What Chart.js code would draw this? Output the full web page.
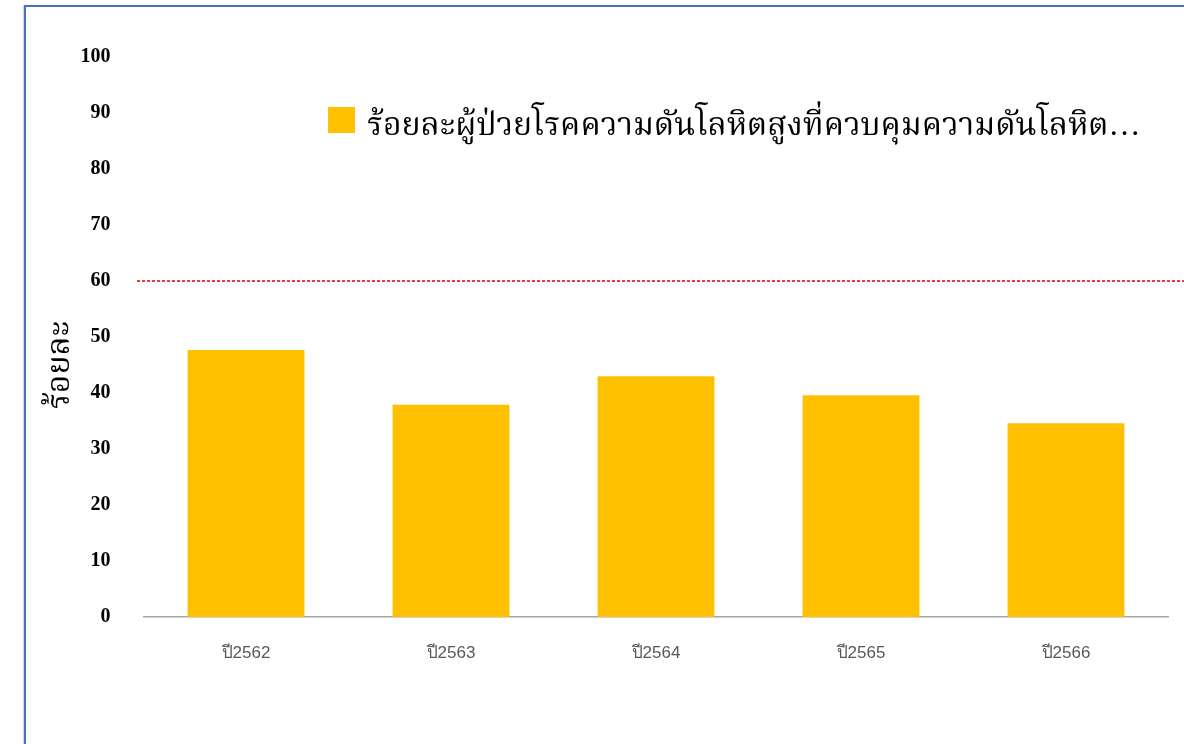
<!DOCTYPE html>
<html lang="th">
<head>
<meta charset="utf-8">
<title>ร้อยละผู้ป่วยโรคความดันโลหิตสูงที่ควบคุมความดันโลหิตได้ดี</title>
<script src="https://cdn.jsdelivr.net/npm/chart.js@4"></script>
<style>
    html, body {
        margin: 0;
        padding: 0;
        background: #ffffff;
        overflow: hidden;
    }

    #grafica {
        position: absolute;
        left: 0;
        top: 0;
    }

    .marco {
        position: absolute;
        left: 24px;
        top: 5px;
        width: 1300px;
        height: 900px;
        border-left: 2px solid #4472c4;
        border-top: 2px solid #4472c4;
        box-shadow: -1px 0 1px rgba(0, 0, 0, 0.15);
        pointer-events: none;
    }
</style>
</head>
<body>
<canvas id="grafica" width="1184" height="744"></canvas>
<div class="marco"></div>

<script>
const years = ["ปี2562", "ปี2563", "ปี2564", "ปี2565", "ปี2566"];
const controlled = [47.7, 37.9, 43.0, 39.6, 34.6];
const target = 60;
const yTicks = [0, 10, 20, 30, 40, 50, 60, 70, 80, 90, 100];
const seriesLabel = "ร้อยละผู้ป่วยโรคความดันโลหิตสูงที่ควบคุมความดันโลหิต…";
const yTitle = "ร้อยละ";

const fuenteThai = "'Liberation Serif', 'Noto Serif Thai', serif";

// เส้นเป้าหมายแบบเส้นประ ลากยาวออกไปจนสุดขอบขวา
const lineaMeta = {
    id: "lineaMeta",
    afterDatasetsDraw(chart) {
        const y = chart.scales.y.getPixelForValue(target);
        const ctx = chart.ctx;
        ctx.save();
        ctx.strokeStyle = "#e00000";
        ctx.lineWidth = 1.3;
        ctx.setLineDash([3, 2]);
        ctx.beginPath();
        ctx.moveTo(137, y);
        ctx.lineTo(chart.width, y);
        ctx.stroke();
        ctx.restore();
    }
};

// คำอธิบายสัญลักษณ์วางไว้ในพื้นที่กราฟ และชื่อแกน y แนวตั้ง
const leyenda = {
    id: "leyenda",
    afterDraw(chart) {
        const ctx = chart.ctx;
        const ds = chart.data.datasets[0];
        ctx.save();
        ctx.fillStyle = ds.backgroundColor;
        ctx.fillRect(328, 107, 27, 26);
        ctx.fillStyle = "#000000";
        ctx.font = "32px " + fuenteThai;
        ctx.textBaseline = "alphabetic";
        ctx.fillText(ds.label, 367, 135);

        ctx.translate(61, 365);
        ctx.rotate(-Math.PI / 2);
        ctx.textAlign = "center";
        ctx.textBaseline = "middle";
        ctx.font = "32px " + fuenteThai;
        ctx.fillText(yTitle, 0, 0);
        ctx.restore();
    }
};

document.addEventListener("DOMContentLoaded", () => {
    const canvas = document.getElementById("grafica");

    new Chart(canvas, {
        type: "bar",
        data: {
            labels: years,
            datasets: [
                {
                    label: seriesLabel,
                    data: controlled,
                    backgroundColor: "#ffc000",
                    barPercentage: 0.57,
                    categoryPercentage: 1
                }
            ]
        },
        options: {
            responsive: false,
            animation: false,
            layout: {
                padding: {
                    left: 0,
                    top: 57,
                    right: 15.5,
                    bottom: 0
                }
            },
            plugins: {
                legend: {
                    display: false
                },
                tooltip: {
                    enabled: false
                }
            },
            scales: {
                x: {
                    grid: {
                        display: false,
                        drawTicks: false
                    },
                    border: {
                        display: true,
                        color: "#a6a6a6",
                        width: 1.5
                    },
                    ticks: {
                        color: "#595959",
                        padding: 26,
                        font: {
                            family: "'Liberation Sans', Arial, sans-serif",
                            size: 17
                        }
                    },
                    afterFit(scale) {
                        scale.height = 127;
                    }
                },
                y: {
                    min: 0,
                    max: 100,
                    grid: {
                        display: false,
                        drawTicks: false
                    },
                    border: {
                        display: false
                    },
                    afterBuildTicks(scale) {
                        scale.ticks = yTicks.map(v => ({ value: v }));
                    },
                    ticks: {
                        color: "#000000",
                        padding: 33,
                        font: {
                            family: "'Liberation Serif', 'Times New Roman', serif",
                            size: 20,
                            weight: "bold"
                        }
                    },
                    afterFit(scale) {
                        scale.width = 143.5;
                    }
                }
            }
        },
        plugins: [lineaMeta, leyenda]
    });
});
</script>
</body>
</html>
